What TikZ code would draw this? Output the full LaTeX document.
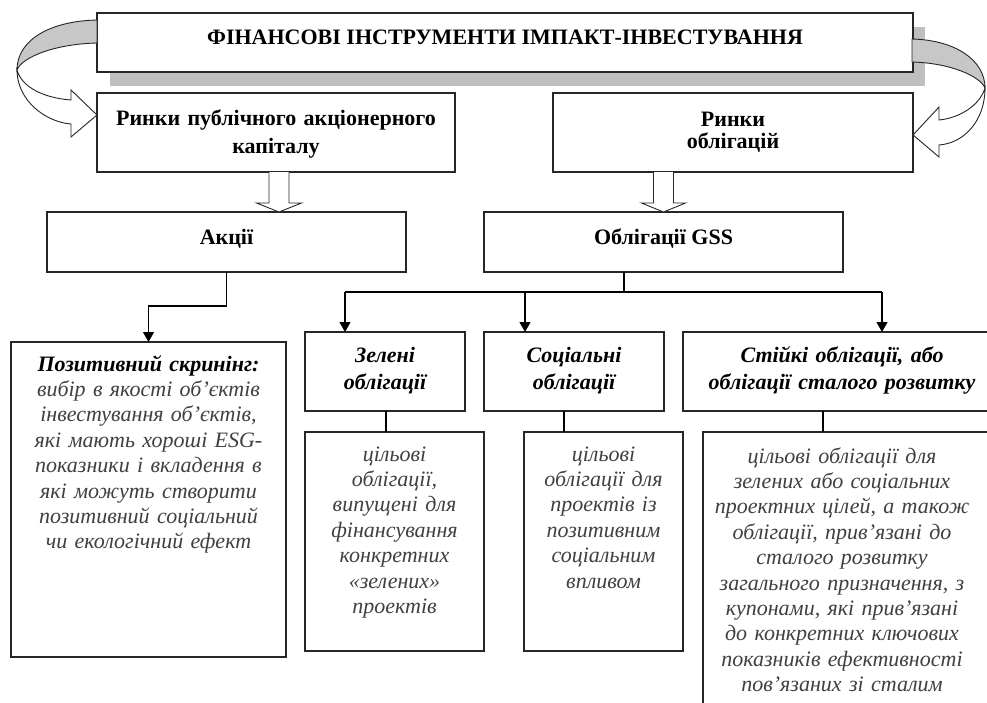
\documentclass[tikz,border=0pt]{standalone}
\usepackage{fontspec}
\setmainfont{Liberation Serif}
\usetikzlibrary{arrows.meta,calc}
\begin{document}
\begin{tikzpicture}[x=1pt,y=-1pt,
  box/.style={draw=black!85,line width=1.2pt,fill=white,anchor=north west,inner sep=0pt,outer sep=0pt},
  ttl/.style={font=\bfseries\fontsize{22}{26}\selectfont,anchor=base,inner sep=0pt},
  bt/.style={font=\bfseries\fontsize{22}{28}\selectfont,anchor=base,align=center,inner sep=0pt},
  bit/.style={font=\bfseries\itshape\fontsize{22}{27}\selectfont,anchor=base,align=center,inner sep=0pt},
  desc/.style={font=\itshape\fontsize{22}{25.4}\selectfont,text=black!75,anchor=base,align=center,inner sep=0pt},
  conn/.style={draw=black,line width=1.2pt},
  arr/.style={conn,-{Triangle[length=10pt,width=11pt]}},
  hollow/.style={draw=black!85,line width=0.9pt,fill=white},
  band/.style={draw=black!85,line width=0.9pt,fill=black!22},
]
\useasboundingbox (0,0) rectangle (987,702);
\clip (0,0) rectangle (987,702);

% shadow and title box
\fill[black!25] (110,27) rectangle (925,86);
\node[box,minimum width=816,minimum height=59] (top) at (97,13) {};
\node[ttl] (toptxt) at (505,44) {ФІНАНСОВІ ІНСТРУМЕНТИ ІМПАКТ-ІНВЕСТУВАННЯ};

% markets
\node[box,minimum width=358,minimum height=79] (r1) at (97,93) {};
\node[bt,text width=350] (r1t) at (276,125) {Ринки публічного акціонерного\\капіталу};
\node[box,minimum width=360,minimum height=79] (r2) at (553,93) {};
\node[bt,text width=350,font=\bfseries\fontsize{22}{22}\selectfont] (r2t) at (733,126) {Ринки\\облігацій};

% curved arrows
\draw[band] (97,20) .. controls (50,21) and (17,40) .. (17,70)
  .. controls (22,57) and (55,44) .. (97,43) -- cycle;
\draw[hollow] (17,70) .. controls (17,100) and (45,122) .. (71,124)
  -- (71,137) -- (r1.west |- 0,115) -- (71,90) -- (71,100)
  .. controls (45,98) and (22,88) .. (17,70) -- cycle;
\draw[band] (912,39) .. controls (955,40) and (985,60) .. (985,88)
  .. controls (980,76) and (950,63) .. (912,62) -- cycle;
\draw[hollow] (985,88) .. controls (985,120) and (965,143) .. (939,145)
  -- (939,157) -- (r2.east |- 0,135) -- (939,107) -- (939,120)
  .. controls (960,118) and (980,105) .. (985,88) -- cycle;

% second level
\node[box,minimum width=359,minimum height=60] (akc) at (47,212) {};
\node[bt] (akct) at (226.5,244) {Акції};
\node[box,minimum width=359,minimum height=60] (gss) at (484,212) {};
\node[bt] (gsst) at (663.5,244) {Облігації GSS};

% hollow block arrows
\coordinate (h1) at ([xshift=3pt]r1.south);
\coordinate (h2) at (r2.south -| gss.north);
\draw[hollow] ($(h1)+(-10,0)$) -- ($(h1)+(-10,31)$) -- ($(h1)+(-22.5,31)$) -- (h1 |- akc.north)
  -- ($(h1)+(22.5,31)$) -- ($(h1)+(10,31)$) -- ($(h1)+(10,0)$);
\draw[hollow] ($(h2)+(-10,0)$) -- ($(h2)+(-10,31)$) -- ($(h2)+(-22,31)$) -- (gss.north)
  -- ($(h2)+(22,31)$) -- ($(h2)+(10,31)$) -- ($(h2)+(10,0)$);

% third level
\node[box,minimum width=275,minimum height=315] (pos) at (11,342) {};
\node[desc,text width=270] (post) at (148.5,371) {{\bfseries\color{black}Позитивний скринінг:}\\вибір в якості об’єктів\\інвестування об’єктів,\\які мають хороші ESG-\\показники і вкладення в\\які можуть створити\\позитивний соціальний\\чи екологічний ефект};

\node[box,minimum width=160,minimum height=79] (zel) at (305,332) {};
\node[bit,text width=160] (zelt) at (385,362) {Зелені\\облігації};
\node[box,minimum width=180,minimum height=79] (soc) at (484,332) {};
\node[bit,text width=180] (soct) at (574,362) {Соціальні\\облігації};
\node[box,minimum width=320,minimum height=79] (sti) at (683,332) {};
\node[bit,text width=310] (stit) at (842,362) {Стійкі облігації, або\\облігації сталого розвитку};

\node[box,minimum width=179,minimum height=219] (zeld) at (305,432) {};
\node[desc,text width=179] (zeldt) at (394.5,461) {цільові\\облігації,\\випущені для\\фінансування\\конкретних\\«зелених»\\проектів};
\node[box,minimum width=159,minimum height=219] (socd) at (524,432) {};
\node[desc,text width=159] (socdt) at (603.5,461) {цільові\\облігації для\\проектів із\\позитивним\\соціальним\\впливом};
\node[box,minimum width=300,minimum height=300] (stid) at (703,432) {};
\node[desc,text width=295] (stidt) at (842,463) {цільові облігації для\\зелених або соціальних\\проектних цілей, а також\\облігації, прив’язані до\\сталого розвитку\\загального призначення, з\\купонами, які прив’язані\\до конкретних ключових\\показників ефективності\\пов’язаних зі сталим};

% connectors
\draw[arr] (akc.south) -- ++(0,34) -| (pos.north);
\coordinate (bus) at ([xshift=-39.5pt]gss.south);
\coordinate (busL) at ($(zel.north west)+(40,-40)$);
\coordinate (busR) at ($(sti.north west)+(199,-40)$);
\draw[conn] (bus) -- (bus |- busL);
\draw[conn] (busL) -- (busR);
\draw[arr] (busL) -- (busL |- zel.north);
\draw[arr] (busL -| soc.north west) ++(41,0) coordinate (busM) -- (busM |- soc.north);
\draw[arr] (busR) -- (busR |- sti.north);
\draw[conn] ([xshift=1pt]zel.south) -- ([xshift=1pt]zel.south |- zeld.north);
\draw[conn] ([xshift=-10pt]soc.south) -- ([xshift=-10pt]soc.south |- socd.north);
\draw[conn] ($(sti.south west)+(140,0)$) -- ($(sti.south west)+(140,21)$);
\end{tikzpicture}
\end{document}
